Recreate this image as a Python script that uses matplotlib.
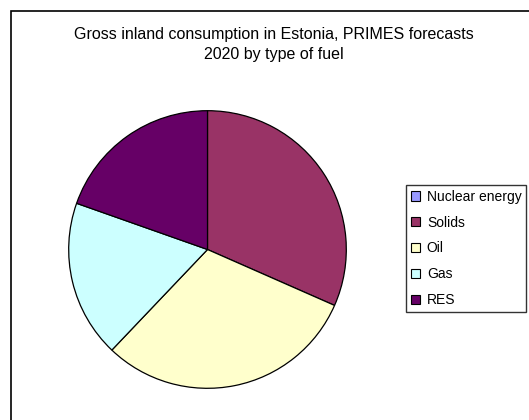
import matplotlib.pyplot as plt
import matplotlib.patches as mpatches

# Shares of gross inland consumption (%)
fuels = ['Nuclear energy', 'Solids', 'Oil', 'Gas', 'RES']
shares = [0.0, 31.6, 30.5, 18.3, 19.6]
colors = ['#9999FF', '#993366', '#FFFFCC', '#CCFFFF', '#660066']

plt.rcParams['font.family'] = ['Liberation Sans', 'DejaVu Sans']

fig = plt.figure(figsize=(5.29, 4.2), dpi=100)
fig.patch.set_facecolor('white')

# Outer chart frame (runs off the right and bottom edges)
frame = mpatches.Rectangle((11 / 529, -0.2), 1.5, 1.2 - 11 / 420,
                           transform=fig.transFigure, fill=False,
                           edgecolor='black', linewidth=1.2)
fig.patches.append(frame)

fig.text(274 / 529, 1 - 34 / 420, 'Gross inland consumption in Estonia, PRIMES forecasts',
         ha='center', va='center', fontsize=11.5)
fig.text(274 / 529, 1 - 54 / 420, '2020 by type of fuel',
         ha='center', va='center', fontsize=11.5)

ax = fig.add_axes([68 / 529, 31 / 420, 279 / 529, 279 / 420])
wedges, _ = ax.pie(shares, colors=colors, startangle=90, counterclock=False,
                   wedgeprops=dict(edgecolor='black', linewidth=0.9))
ax.set_xlim(-1.005, 1.005)
ax.set_ylim(-1.005, 1.005)
ax.set_aspect('equal')

handles = [mpatches.Patch(facecolor=c, edgecolor='black', linewidth=0.8) for c in colors]
leg = fig.legend(handles, fuels, loc='upper left',
                 bbox_to_anchor=(406 / 529, 1 - 185 / 420),
                 fontsize=10, frameon=True, fancybox=False,
                 handlelength=0.65, handleheight=0.65, handletextpad=0.5,
                 labelspacing=0.85, borderpad=0.35, borderaxespad=0)
leg.get_frame().set_edgecolor('black')
leg.get_frame().set_linewidth(1.0)

fig.savefig('out.png', dpi=100, facecolor='white')
